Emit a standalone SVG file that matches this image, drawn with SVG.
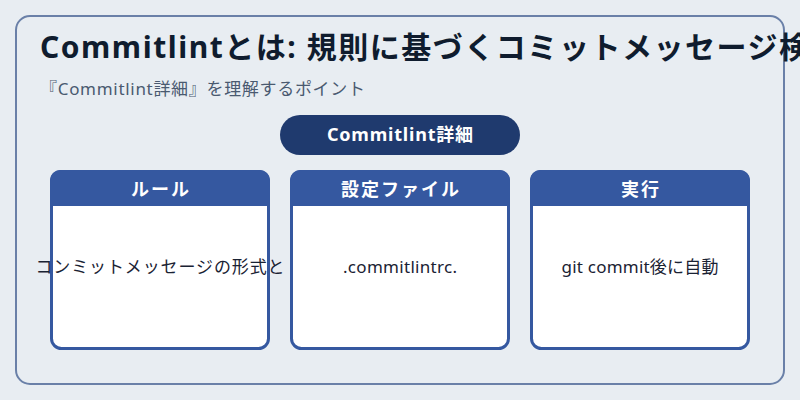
<svg xmlns="http://www.w3.org/2000/svg" width="800" height="400" viewBox="0 0 800 400">
<style>
text{font-family:"Noto Sans","Noto Sans CJK JP",sans-serif}
.title{font-size:30px;font-weight:700;fill:#0f1c2e}
.sub{font-size:17px;fill:#4a5a70}
.pill{fill:#1f3a6e}
.pilltxt{font-size:18px;font-weight:700;fill:#ffffff}
.card{fill:#ffffff;stroke:#3558a0;stroke-width:3}
.head{fill:#3558a0}
.htxt{font-size:18px;font-weight:700;fill:#ffffff}
.btxt{font-size:17px;fill:#1a2233}
</style>
<rect width="800" height="400" fill="#e8edf2"/>
<rect x="16" y="16" width="768" height="368" rx="14" fill="#e8edf2" stroke="#6a80a8" stroke-width="2"/>
<text class="title" x="40" y="58" textLength="769" lengthAdjust="spacing">Commitlintとは: 規則に基づくコミットメッセージ検</text>
<text class="sub" x="40" y="95" textLength="325" lengthAdjust="spacing">『Commitlint詳細』を理解するポイント</text>
<g id="root">
<rect class="pill" x="280" y="115" width="240" height="40" rx="20"/>
<text class="pilltxt" x="400" y="141" text-anchor="middle" textLength="146" lengthAdjust="spacing">Commitlint詳細</text>
</g>
<g id="connectors"></g>
<g id="rule">
<rect class="card" x="51.5" y="171.5" width="217" height="177" rx="10"/>
<path class="head" d="M50,206 V180 a10,10 0 0 1 10,-10 H260 a10,10 0 0 1 10,10 V206 Z"/>
<text class="htxt" x="160" y="196" text-anchor="middle" textLength="58" lengthAdjust="spacing">ルール</text>
<text class="btxt" x="160" y="273" text-anchor="middle" textLength="249" lengthAdjust="spacing">コンミットメッセージの形式と</text>
</g>
<g id="config">
<rect class="card" x="291.5" y="171.5" width="217" height="177" rx="10"/>
<path class="head" d="M290,206 V180 a10,10 0 0 1 10,-10 H500 a10,10 0 0 1 10,10 V206 Z"/>
<text class="htxt" x="400" y="196" text-anchor="middle" textLength="118" lengthAdjust="spacing">設定ファイル</text>
<text class="btxt" x="400" y="273" text-anchor="middle" textLength="114" lengthAdjust="spacing">.commitlintrc.</text>
</g>
<g id="exec">
<rect class="card" x="531.5" y="171.5" width="217" height="177" rx="10"/>
<path class="head" d="M530,206 V180 a10,10 0 0 1 10,-10 H740 a10,10 0 0 1 10,10 V206 Z"/>
<text class="htxt" x="640" y="196" text-anchor="middle" textLength="38" lengthAdjust="spacing">実行</text>
<text class="btxt" x="640" y="273" text-anchor="middle" textLength="157" lengthAdjust="spacing">git commit後に自動</text>
</g>
</svg>
